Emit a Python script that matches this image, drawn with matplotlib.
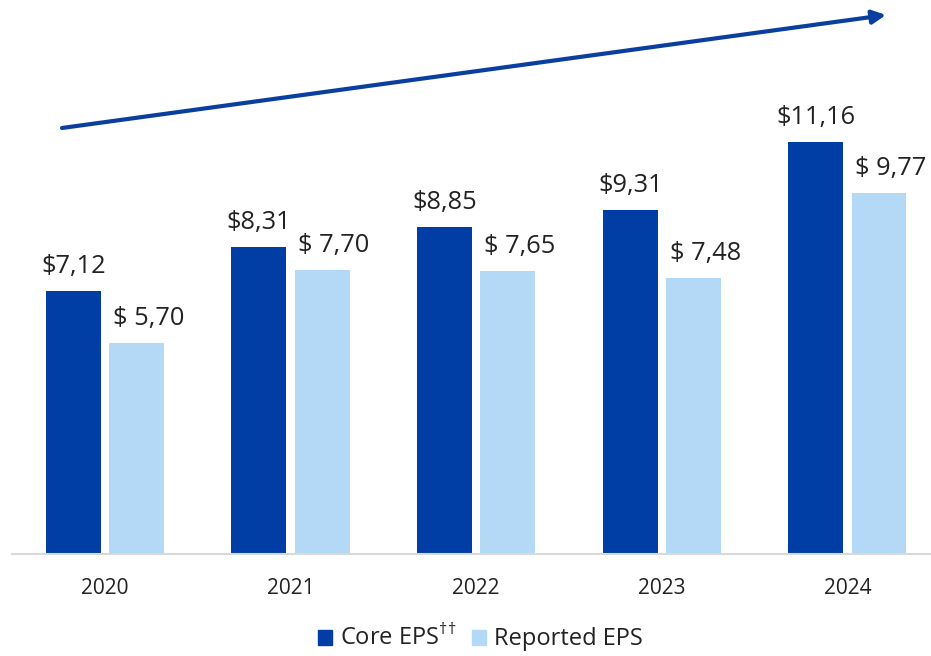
import numpy as np
import matplotlib.pyplot as plt
from matplotlib.patches import Patch

plt.rcParams['font.family'] = ['Open Sans', 'DejaVu Sans']
plt.rcParams['mathtext.fontset'] = 'custom'
plt.rcParams['mathtext.rm'] = 'Open Sans'

years = ["2020", "2021", "2022", "2023", "2024"]
core_eps = [7.12, 8.31, 8.85, 9.31, 11.16]
reported_eps = [5.70, 7.70, 7.65, 7.48, 9.77]
core_labels = ["$7,12", "$8,31", "$8,85", "$9,31", "$11,16"]
reported_labels = ["$ 5,70", "$ 7,70", "$ 7,65", "$ 7,48", "$ 9,77"]

dark_blue = "#003DA5"
light_blue = "#B3D9F7"
text_col = "#222222"

fig = plt.figure(figsize=(9.31, 6.56), dpi=100)
ax = fig.add_axes([12 / 931, 102 / 656, 919 / 931, 554 / 656])

x = np.arange(len(years))
w = 0.296
off = 0.17
ax.bar(x - off, core_eps, w, color=dark_blue)
ax.bar(x + off, reported_eps, w, color=light_blue)

for i in range(len(years)):
    ax.text(x[i] - off, core_eps[i] + 0.49, core_labels[i], ha="center", va="baseline",
            fontsize=18.3, color=text_col)
    # reported labels sit a little right of the bar centre in the original
    ax.text(x[i] + off + 0.065, reported_eps[i] + 0.49, reported_labels[i], ha="center",
            va="baseline", fontsize=18.3, color=text_col)

ax.set_xlim(-0.50, 4.45)
ax.set_ylim(0, 15.0)
ax.set_xticks(x)
ax.set_xticklabels(years, fontsize=15, color=text_col)
ax.tick_params(axis="x", length=0, pad=17)
ax.set_yticks([])
for s in ["top", "right", "left"]:
    ax.spines[s].set_visible(False)
ax.spines["bottom"].set_color("#D9D9D9")
ax.spines["bottom"].set_linewidth(1.5)

# growth arrow (figure pixel coordinates)
ax.annotate("", xy=(886 / 931, 1 - 15 / 656), xytext=(62 / 931, 1 - 128 / 656),
            xycoords="figure fraction", textcoords="figure fraction",
            arrowprops=dict(arrowstyle="-|>,head_length=0.8,head_width=0.4",
                            color="#0A3FA0", lw=3, shrinkA=0, shrinkB=0))

handles = [Patch(color=dark_blue), Patch(color=light_blue)]
fig.legend(handles, ["Core EPS$^{\\mathrm{\u2020\u2020}}$", "Reported EPS"],
           loc="center", bbox_to_anchor=(0.516, 0.027), ncol=2, frameon=False,
           fontsize=17, handlelength=0.59, handleheight=0.59, handletextpad=0.34,
           columnspacing=0.64, labelcolor=text_col, borderaxespad=0, borderpad=0)

fig.savefig("out.png", dpi=100)
